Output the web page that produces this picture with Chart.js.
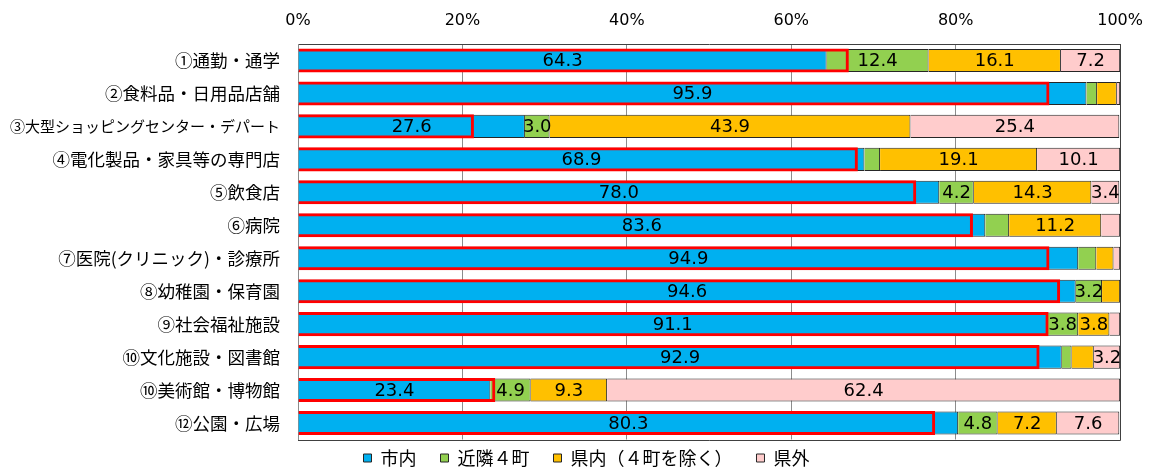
<!DOCTYPE html>
<html lang="ja">
<head>
<meta charset="UTF-8">
<title>利用先の地域別割合</title>
<script src="https://cdn.jsdelivr.net/npm/chart.js"></script>
<style>
  body { margin: 0; background: #fff; }
  canvas { display: block; }
</style>
</head>
<body>
<canvas id="areaChart" width="1157" height="468"></canvas>
<script>
const categories = [
  '①通勤・通学',
  '②食料品・日用品店舗',
  '③大型ショッピングセンター・デパート',
  '④電化製品・家具等の専門店',
  '⑤飲食店',
  '⑥病院',
  '⑦医院(クリニック)・診療所',
  '⑧幼稚園・保育園',
  '⑨社会福祉施設',
  '⑩文化施設・図書館',
  '⑩美術館・博物館',
  '⑫公園・広場'
];

// 今回調査（%）
const shinai = [64.3, 95.9, 27.6, 68.9, 78.0, 83.6, 94.9, 94.6, 91.1, 92.9, 23.4, 80.3];
const kinrin = [12.4, 1.3, 3.0, 1.9, 4.2, 2.9, 2.2, 3.2, 3.8, 1.2, 4.9, 4.8];
const kennai = [16.1, 2.4, 43.9, 19.1, 14.3, 11.2, 2.1, 2.2, 3.8, 2.7, 9.3, 7.2];
const kengai = [7.2, 0.4, 25.4, 10.1, 3.4, 2.3, 0.8, 0.0, 1.3, 3.2, 62.4, 7.6];

// 前回調査の市内（赤枠）
const prevShinai = [67.0, 91.4, 21.4, 68.1, 75.2, 82.1, 91.4, 92.7, 91.3, 90.2, 24.0, 77.5];

const xTicks = [0, 20, 40, 60, 80, 100];

const jpFont = '"Noto Sans CJK JP", sans-serif';
const numFont = '"DejaVu Sans", sans-serif';

// 3.0以上の区分だけ数値を入れる
const segmentLabels = {
  id: 'segmentLabels',
  afterDatasetsDraw(chart) {
    const ctx = chart.ctx;
    ctx.save();
    ctx.font = '18px ' + numFont;
    ctx.fillStyle = '#000';
    ctx.textAlign = 'center';
    ctx.textBaseline = 'middle';
    chart.data.datasets.forEach((ds, di) => {
      if (ds.stack !== 'now') return;
      chart.getDatasetMeta(di).data.forEach((bar, i) => {
        const v = ds.data[i];
        if (v < 3) return;
        ctx.fillText(v.toFixed(1), (bar.x + bar.base) / 2, bar.y + 1);
      });
    });
    ctx.restore();
  }
};

// 右と下の枠線、凡例の位置合わせ
const plotFrame = {
  id: 'plotFrame',
  afterLayout(chart) {
    // 横の間隔はpaddingで取り、縦は枠のすぐ下に詰める
    const lg = chart.legend;
    lg.top = chart.chartArea.bottom + 9.5 - lg.options.labels.padding;
    lg.bottom = chart.height;
    // 右余白の分を戻して少し右寄せ
    lg.left = 16;
    lg.right = chart.width;
  },
  beforeDatasetsDraw(chart) {
    const { ctx, chartArea: a } = chart;
    const r = Math.round(a.right) + 0.5;
    const b = Math.round(a.bottom) + 0.5;
    ctx.save();
    ctx.strokeStyle = '#404040';
    ctx.lineWidth = 1;
    ctx.beginPath();
    ctx.moveTo(r, a.top);
    ctx.lineTo(r, b);
    ctx.lineTo(a.left, b);
    ctx.stroke();
    ctx.restore();
  }
};

const seg = (label, data, color) => ({
  label, data,
  stack: 'now', order: 1,
  backgroundColor: color,
  borderColor: '#262626',
  borderWidth: 1
});

new Chart(document.getElementById('areaChart'), {
  type: 'bar',
  data: {
    labels: categories,
    datasets: [
      {
        label: '前回市内', data: prevShinai,
        stack: 'prev', order: 0,
        backgroundColor: 'rgba(0,0,0,0)',
        borderColor: '#ff0000',
        borderWidth: 3,
        barPercentage: 0.73
      },
      seg('市内', shinai, '#00b0f0'),
      seg('近隣４町', kinrin, '#92d050'),
      seg('県内（４町を除く）', kennai, '#ffc000'),
      seg('県外', kengai, '#ffcccc')
    ]
  },
  options: {
    indexAxis: 'y',
    responsive: false,
    animation: false,
    layout: { padding: { right: 36 } },
    datasets: {
      bar: { grouped: false, categoryPercentage: 1, barPercentage: 0.7 }
    },
    scales: {
      x: {
        position: 'top',
        stacked: true,
        min: 0,
        max: 100,
        afterBuildTicks: s => { s.ticks = xTicks.map(v => ({ value: v })); },
        ticks: {
          callback: v => v + '%',
          color: '#000',
          font: { family: numFont, size: 16 },
          padding: 14
        },
        grid: { color: '#8c8c8c', drawTicks: false },
        border: { color: '#404040' },
        afterFit: s => { s.height = 44; }
      },
      y: {
        stacked: true,
        ticks: {
          autoSkip: false,
          color: '#000',
          font: c => ({ family: jpFont, size: c.index === 2 ? 15 : 17.5 }),
          padding: 18
        },
        grid: { display: false, drawTicks: false },
        border: { color: '#8c8c8c' },
        afterFit: s => { s.width = 298; }
      }
    },
    plugins: {
      legend: {
        position: 'bottom',
        maxHeight: 28,
        labels: {
          filter: item => item.datasetIndex !== 0,
          boxWidth: 8,
          boxHeight: 8,
          padding: 24,
          color: '#000',
          font: { family: jpFont, size: 18 }
        }
      },
      tooltip: { enabled: false }
    }
  },
  plugins: [segmentLabels, plotFrame]
});
</script>
</body>
</html>
